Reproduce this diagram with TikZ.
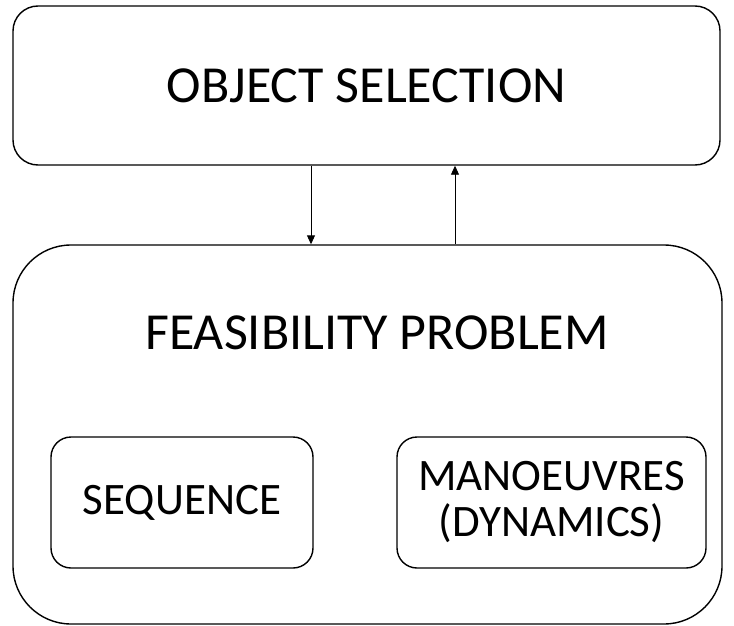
\documentclass[tikz,border=0pt]{standalone}
\usepackage{fontspec}
\setmainfont{Carlito}
\usetikzlibrary{arrows.meta}
\tikzset{
  every node/.style={font=\fontsize{45}{46}\selectfont, text=black},
  block/.style={draw=black, line width=1.4pt, rounded corners=#1, align=center, inner sep=0pt},
  title/.style={font=\fontsize{52}{58}\selectfont},
  link/.style={-{Triangle[length=9pt,width=8pt]}, draw=black, line width=0.9pt},
}
\begin{document}
\begin{tikzpicture}[x=1pt, y=-1pt]
  \useasboundingbox (0,0) rectangle (734,626);
  % Upper block
  \node[block=25pt, minimum width=707pt, minimum height=159pt, title]
    (objsel) at (366.5,85.5) {OBJECT SELECTION};
  % Lower block with its two parts
  \node[block=58pt, minimum width=709pt, minimum height=379pt]
    (feas) at (367.5,434.5) {};
  \node[title] (feastitle) at (377,333) {FEASIBILITY PROBLEM};
  \node[block=20pt, minimum width=262pt, minimum height=131pt]
    (seq) at (182,502.5) {SEQUENCE};
  \node[block=20pt, minimum width=309pt, minimum height=131pt]
    (manoe) at (551.5,502.5) {MANOEUVRES\\(DYNAMICS)};
  % Links between the blocks
  \draw[link] ([xshift=-55.5pt]objsel.south) -- ([xshift=-56.5pt]feas.north);
  \draw[link] ([xshift=87.5pt]feas.north) -- ([xshift=88.5pt]objsel.south);
\end{tikzpicture}
\end{document}
